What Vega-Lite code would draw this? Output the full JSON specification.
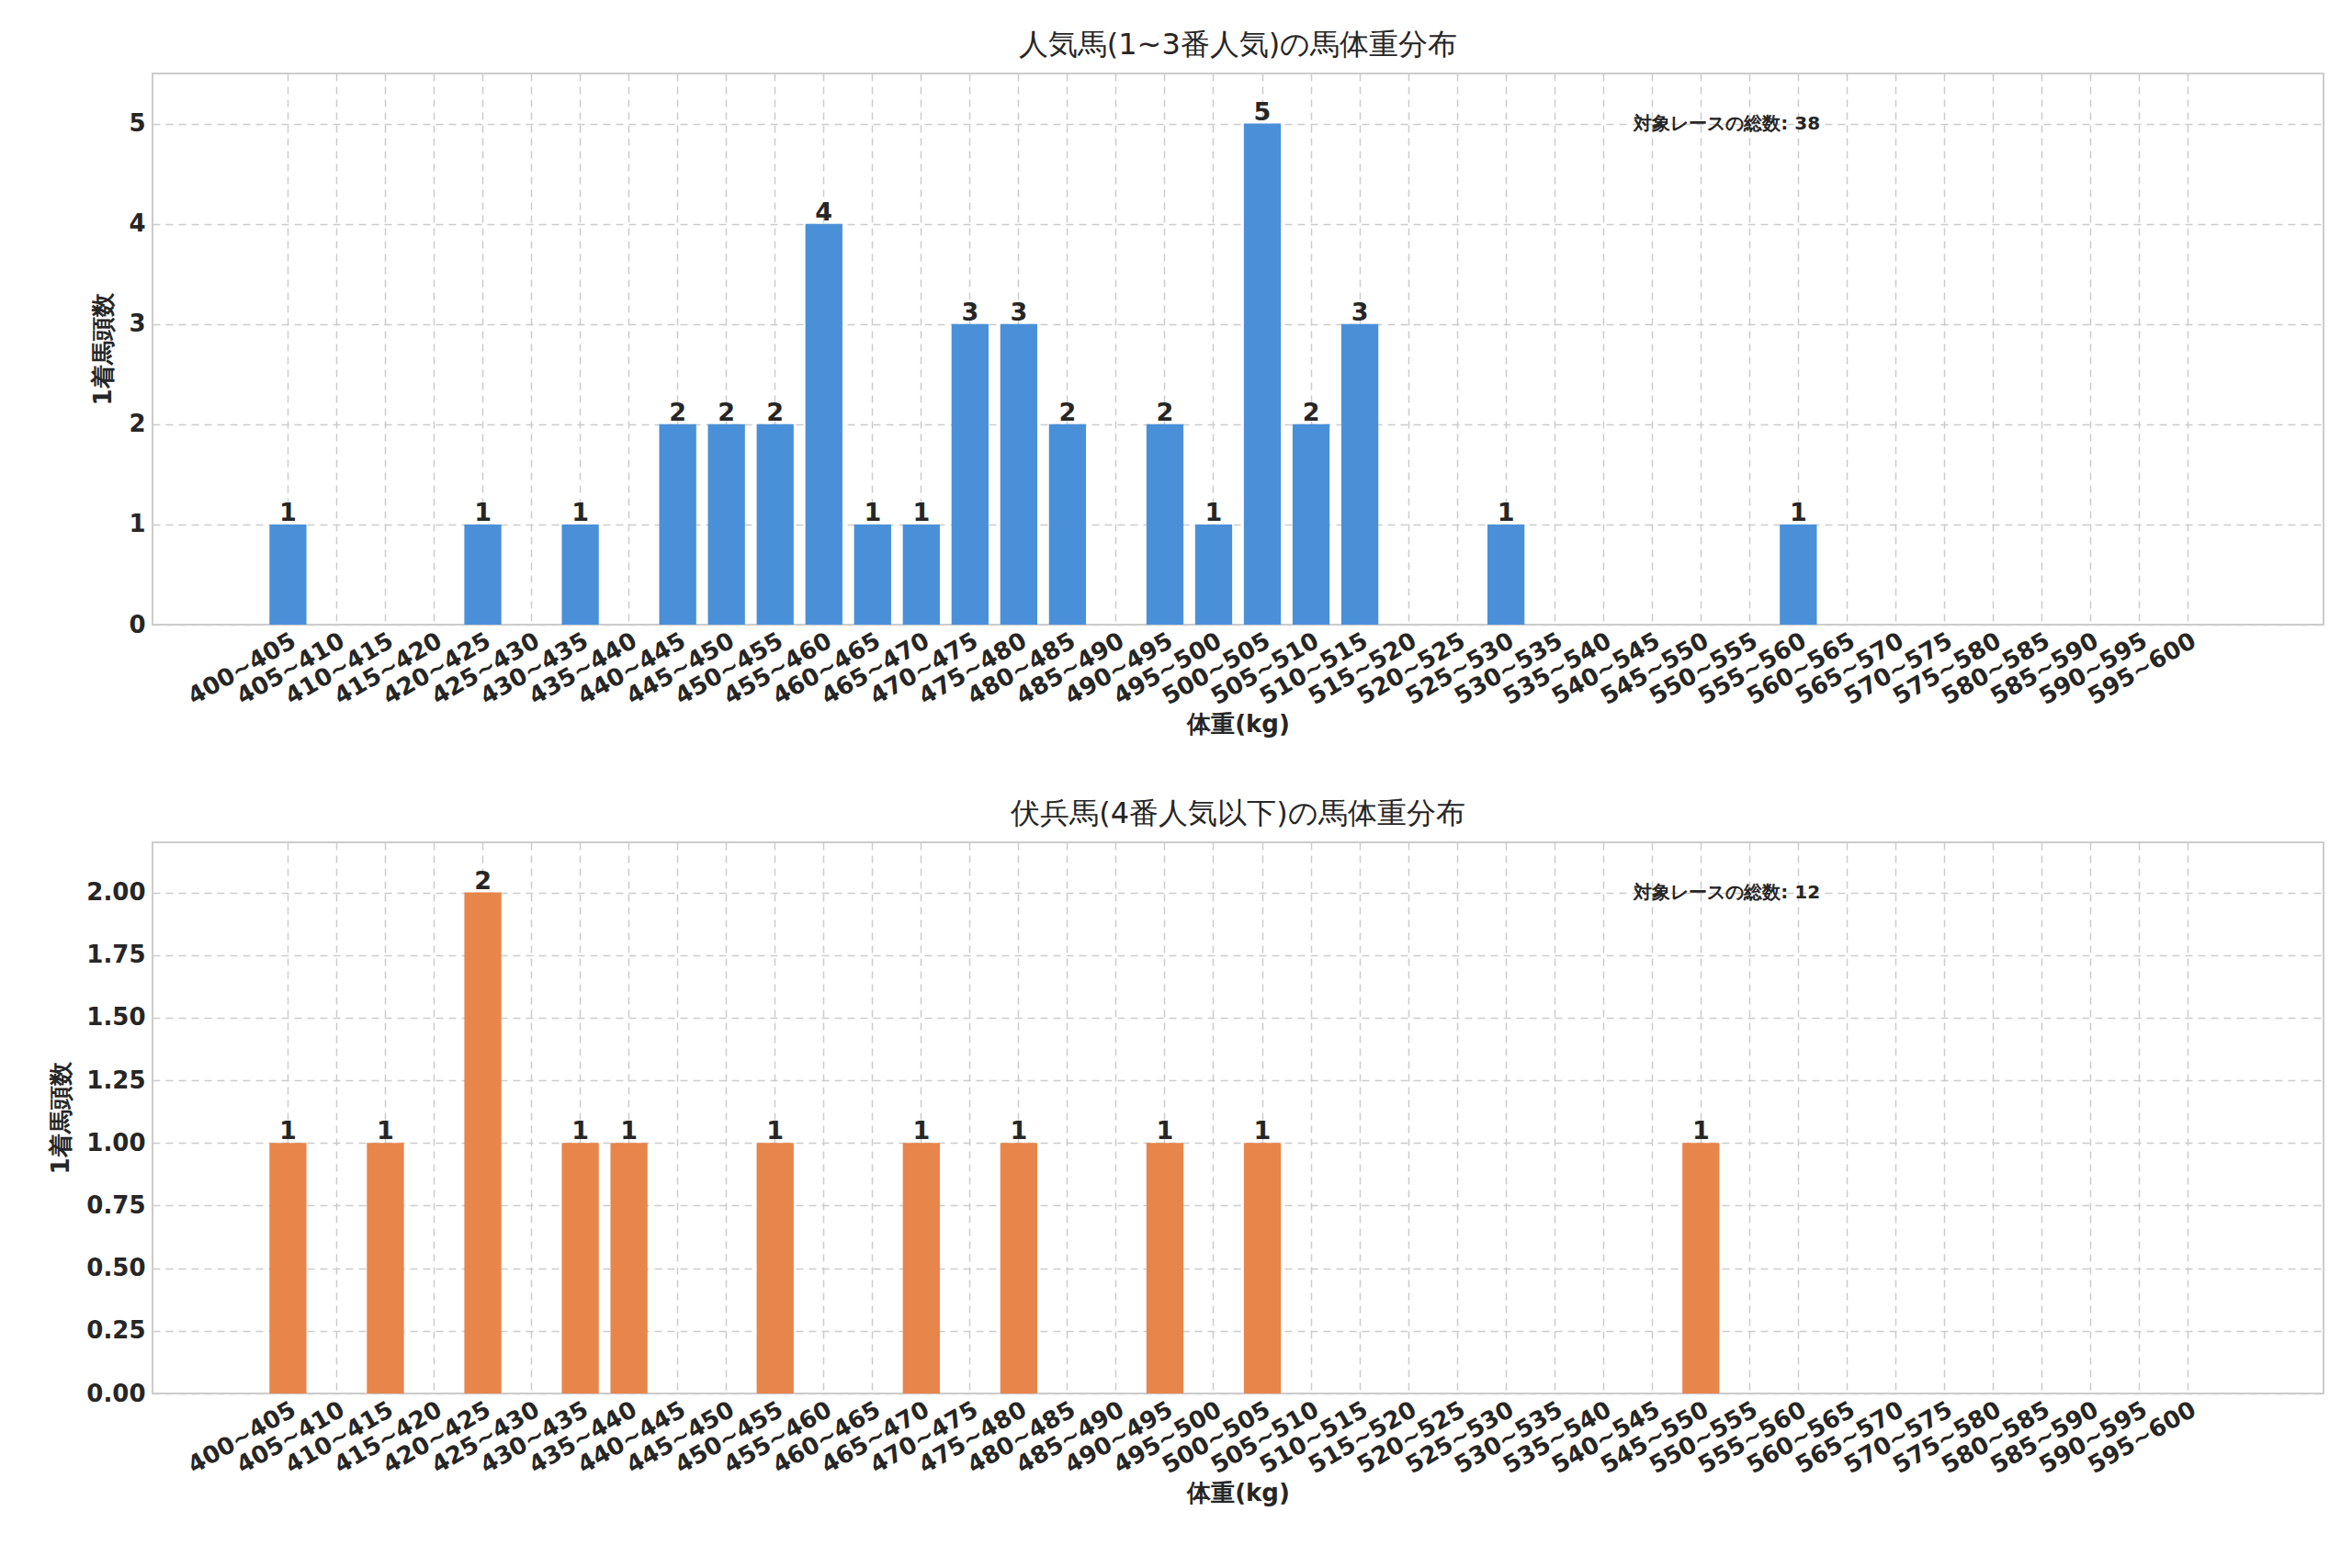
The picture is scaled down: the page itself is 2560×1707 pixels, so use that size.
{
  "$schema": "https://vega.github.io/schema/vega-lite/v6.json",
  "background": "white",
  "padding": {"left": 52, "top": 32, "right": 20, "bottom": 10},
  "config": {
    "font": "DejaVu Sans",
    "view": {"stroke": "#cccccc", "strokeWidth": 2},
    "axis": {
      "labelFont": "DejaVu Sans", "labelFontSize": 26, "labelFontWeight": "bold", "labelColor": "#262626",
      "titleFont": "DejaVu Sans", "titleFontSize": 26, "titleFontWeight": "bold", "titleColor": "#262626",
      "grid": true, "gridDash": [8, 6], "gridColor": "#cccccc", "gridWidth": 1.5,
      "domain": false, "ticks": false, "labelPadding": 8
    },
    "title": {"font": "DejaVu Sans", "fontSize": 32, "fontWeight": "normal", "color": "#262626", "offset": 14},
    "concat": {"spacing": 66}
  },
  "datasets": {
    "top": [
      {"bin": "400~405", "n": 1}, {"bin": "405~410", "n": 0}, {"bin": "410~415", "n": 0}, {"bin": "415~420", "n": 0},
      {"bin": "420~425", "n": 1}, {"bin": "425~430", "n": 0}, {"bin": "430~435", "n": 1}, {"bin": "435~440", "n": 0},
      {"bin": "440~445", "n": 2}, {"bin": "445~450", "n": 2}, {"bin": "450~455", "n": 2}, {"bin": "455~460", "n": 4},
      {"bin": "460~465", "n": 1}, {"bin": "465~470", "n": 1}, {"bin": "470~475", "n": 3}, {"bin": "475~480", "n": 3},
      {"bin": "480~485", "n": 2}, {"bin": "485~490", "n": 0}, {"bin": "490~495", "n": 2}, {"bin": "495~500", "n": 1},
      {"bin": "500~505", "n": 5}, {"bin": "505~510", "n": 2}, {"bin": "510~515", "n": 3}, {"bin": "515~520", "n": 0},
      {"bin": "520~525", "n": 0}, {"bin": "525~530", "n": 1}, {"bin": "530~535", "n": 0}, {"bin": "535~540", "n": 0},
      {"bin": "540~545", "n": 0}, {"bin": "545~550", "n": 0}, {"bin": "550~555", "n": 0}, {"bin": "555~560", "n": 1},
      {"bin": "560~565", "n": 0}, {"bin": "565~570", "n": 0}, {"bin": "570~575", "n": 0}, {"bin": "575~580", "n": 0},
      {"bin": "580~585", "n": 0}, {"bin": "585~590", "n": 0}, {"bin": "590~595", "n": 0}, {"bin": "595~600", "n": 0}
    ],
    "bottom": [
      {"bin": "400~405", "n": 1}, {"bin": "405~410", "n": 0}, {"bin": "410~415", "n": 1}, {"bin": "415~420", "n": 0},
      {"bin": "420~425", "n": 2}, {"bin": "425~430", "n": 0}, {"bin": "430~435", "n": 1}, {"bin": "435~440", "n": 1},
      {"bin": "440~445", "n": 0}, {"bin": "445~450", "n": 0}, {"bin": "450~455", "n": 1}, {"bin": "455~460", "n": 0},
      {"bin": "460~465", "n": 0}, {"bin": "465~470", "n": 1}, {"bin": "470~475", "n": 0}, {"bin": "475~480", "n": 1},
      {"bin": "480~485", "n": 0}, {"bin": "485~490", "n": 0}, {"bin": "490~495", "n": 1}, {"bin": "495~500", "n": 0},
      {"bin": "500~505", "n": 1}, {"bin": "505~510", "n": 0}, {"bin": "510~515", "n": 0}, {"bin": "515~520", "n": 0},
      {"bin": "520~525", "n": 0}, {"bin": "525~530", "n": 0}, {"bin": "530~535", "n": 0}, {"bin": "535~540", "n": 0},
      {"bin": "540~545", "n": 0}, {"bin": "545~550", "n": 1}, {"bin": "550~555", "n": 0}, {"bin": "555~560", "n": 0},
      {"bin": "560~565", "n": 0}, {"bin": "565~570", "n": 0}, {"bin": "570~575", "n": 0}, {"bin": "575~580", "n": 0},
      {"bin": "580~585", "n": 0}, {"bin": "585~590", "n": 0}, {"bin": "590~595", "n": 0}, {"bin": "595~600", "n": 0}
    ],
    "noteTop": [{"bin": "540~545", "n": 5, "label": "対象レースの総数: 38"}],
    "noteBottom": [{"bin": "540~545", "n": 2, "label": "対象レースの総数: 12"}]
  },
  "vconcat": [
    {
      "title": "人気馬(1~3番人気)の馬体重分布",
      "width": 2363, "height": 600,
      "data": {"name": "top"},
      "encoding": {
        "x": {"field": "bin", "type": "ordinal", "sort": null, "title": "体重(kg)",
          "scale": {"paddingInner": 0.24, "paddingOuter": 0.4,
            "domain": ["_a", "_b", "400~405", "405~410", "410~415", "415~420", "420~425", "425~430", "430~435", "435~440", "440~445", "445~450", "450~455", "455~460", "460~465", "465~470", "470~475", "475~480", "480~485", "485~490", "490~495", "495~500", "500~505", "505~510", "510~515", "515~520", "520~525", "525~530", "530~535", "535~540", "540~545", "545~550", "550~555", "555~560", "560~565", "565~570", "570~575", "575~580", "580~585", "585~590", "590~595", "595~600", "_c", "_d"]},
          "axis": {"labelAngle": -30, "labelAlign": "right", "labelBaseline": "top", "labelPadding": 4,
            "values": ["400~405", "405~410", "410~415", "415~420", "420~425", "425~430", "430~435", "435~440", "440~445", "445~450", "450~455", "455~460", "460~465", "465~470", "470~475", "475~480", "480~485", "485~490", "490~495", "495~500", "500~505", "505~510", "510~515", "515~520", "520~525", "525~530", "530~535", "535~540", "540~545", "545~550", "550~555", "555~560", "560~565", "565~570", "570~575", "575~580", "580~585", "585~590", "590~595", "595~600"]}},
        "y": {"field": "n", "type": "quantitative", "title": "1着馬頭数",
          "scale": {"domain": [0, 5.5], "nice": false},
          "axis": {"values": [0, 1, 2, 3, 4, 5], "titlePadding": 14}}
      },
      "layer": [
        {"mark": {"type": "bar", "color": "#4a90d9"}},
        {"transform": [{"filter": "datum.n > 0"}],
          "mark": {"type": "text", "baseline": "bottom", "dy": 2, "fontSize": 27, "fontWeight": "bold", "color": "#262626"},
          "encoding": {"text": {"field": "n"}}},
        {"data": {"name": "noteTop"},
          "mark": {"type": "text", "align": "left", "baseline": "middle", "dx": -20, "fontSize": 20, "fontWeight": "bold", "color": "#262626"},
          "encoding": {"text": {"field": "label"}}}
      ]
    },
    {
      "title": "伏兵馬(4番人気以下)の馬体重分布",
      "width": 2363, "height": 600,
      "data": {"name": "bottom"},
      "encoding": {
        "x": {"field": "bin", "type": "ordinal", "sort": null, "title": "体重(kg)",
          "scale": {"paddingInner": 0.24, "paddingOuter": 0.4,
            "domain": ["_a", "_b", "400~405", "405~410", "410~415", "415~420", "420~425", "425~430", "430~435", "435~440", "440~445", "445~450", "450~455", "455~460", "460~465", "465~470", "470~475", "475~480", "480~485", "485~490", "490~495", "495~500", "500~505", "505~510", "510~515", "515~520", "520~525", "525~530", "530~535", "535~540", "540~545", "545~550", "550~555", "555~560", "560~565", "565~570", "570~575", "575~580", "580~585", "585~590", "590~595", "595~600", "_c", "_d"]},
          "axis": {"labelAngle": -30, "labelAlign": "right", "labelBaseline": "top", "labelPadding": 4,
            "values": ["400~405", "405~410", "410~415", "415~420", "420~425", "425~430", "430~435", "435~440", "440~445", "445~450", "450~455", "455~460", "460~465", "465~470", "470~475", "475~480", "480~485", "485~490", "490~495", "495~500", "500~505", "505~510", "510~515", "515~520", "520~525", "525~530", "530~535", "535~540", "540~545", "545~550", "550~555", "555~560", "560~565", "565~570", "570~575", "575~580", "580~585", "585~590", "590~595", "595~600"]}},
        "y": {"field": "n", "type": "quantitative", "title": "1着馬頭数",
          "scale": {"domain": [0, 2.2], "nice": false},
          "axis": {"values": [0, 0.25, 0.5, 0.75, 1, 1.25, 1.5, 1.75, 2], "format": ".2f", "titlePadding": 14}}
      },
      "layer": [
        {"mark": {"type": "bar", "color": "#e8854a"}},
        {"transform": [{"filter": "datum.n > 0"}],
          "mark": {"type": "text", "baseline": "bottom", "dy": 2, "fontSize": 27, "fontWeight": "bold", "color": "#262626"},
          "encoding": {"text": {"field": "n"}}},
        {"data": {"name": "noteBottom"},
          "mark": {"type": "text", "align": "left", "baseline": "middle", "dx": -20, "fontSize": 20, "fontWeight": "bold", "color": "#262626"},
          "encoding": {"text": {"field": "label"}}}
      ]
    }
  ]
}
